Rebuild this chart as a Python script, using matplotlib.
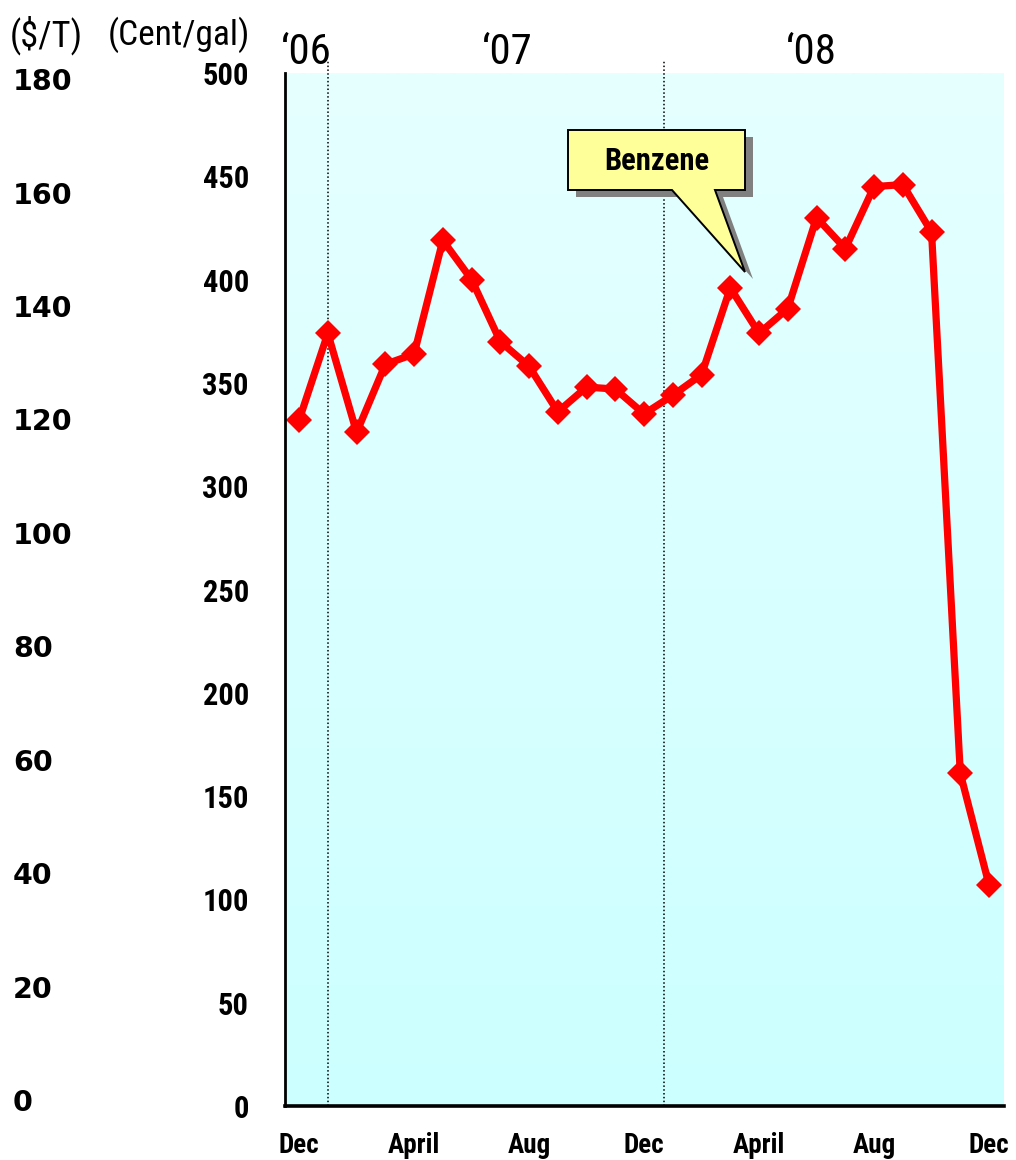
import numpy as np
import matplotlib
matplotlib.use("Agg")
import matplotlib.pyplot as plt
from matplotlib.patches import Polygon
from matplotlib import font_manager

# Monthly benzene price, Dec 2006 .. Dec 2008 (cents per gallon)
months = ["Dec", "Jan", "Feb", "Mar", "April", "May", "Jun", "Jul", "Aug", "Sep", "Oct", "Nov",
          "Dec", "Jan", "Feb", "Mar", "April", "May", "Jun", "Jul", "Aug", "Sep", "Oct", "Nov",
          "Dec"]
benzene_cents = [332, 374, 326, 359, 364, 419, 400, 370, 358, 336, 348, 347,
                 335, 344, 354, 396, 374, 386, 430, 415, 445, 446, 423, 161,
                 107]

cent_ticks = [0, 50, 100, 150, 200, 250, 300, 350, 400, 450, 500]
ton_ticks = [0, 20, 40, 60, 80, 100, 120, 140, 160, 180]
shown_months = [0, 4, 8, 12, 16, 20, 24]
year_labels = ["\u201806", "\u201807", "\u201808"]
year_label_x = [-0.65, 6.35, 16.95]
year_breaks = [1.0, 12.7]

installed = {f.name for f in font_manager.fontManager.ttflist}
narrow = next((n for n in ["Liberation Sans Narrow", "DejaVu Sans Condensed",
                           "Roboto Condensed", "Open Sans Condensed"]
               if n in installed), None)
NARROW_OK = narrow is not None
SANS = [narrow, "Liberation Sans", "DejaVu Sans"] if NARROW_OK else ["Liberation Sans", "DejaVu Sans"]
WIDE = ["DejaVu Sans"]
k = 1.0 if NARROW_OK else 0.85   # shrink when only a regular-width face exists

W, H = 1016, 1160
fig = plt.figure(figsize=(W / 100, H / 100), dpi=100)
fig.patch.set_facecolor("white")

rect = [285 / W, 1 - 1106 / H, (1004 - 285) / W, (1106 - 73) / H]
ax = fig.add_axes(rect)
x = np.arange(len(benzene_cents))

# light cyan vertical gradient behind the plot
grad = np.linspace(0, 1, 256).reshape(-1, 1)
top_c = np.array([230, 255, 255]) / 255
bot_c = np.array([204, 255, 255]) / 255
img = (top_c * (1 - grad) + bot_c * grad).reshape(256, 1, 3)
ax.imshow(img, extent=[-0.49, 24.52, 0, 500], aspect="auto", zorder=0,
          origin="upper", interpolation="bilinear")
ax.set_xlim(-0.49, 24.52)
ax.set_ylim(0, 500)

for xb in year_breaks:
    ax.axvline(xb, ymin=0, ymax=1.013, color="black", lw=1.1,
               linestyle=(0, (1, 1.5)), clip_on=False, zorder=1)

ax.plot(x, benzene_cents, color="#FF0000", lw=5.2, marker="D", ms=13.5,
        markeredgewidth=0, zorder=3)

for s in ["top", "right"]:
    ax.spines[s].set_visible(False)
ax.spines["left"].set_linewidth(2.0)
ax.spines["bottom"].set_linewidth(2.6)
ax.spines["left"].set_zorder(4)
ax.spines["bottom"].set_zorder(4)

ax.set_yticks(cent_ticks)
ax.set_yticklabels([str(v) for v in cent_ticks], family=SANS, fontweight="bold",
                   fontsize=22 * k)
ax.tick_params(axis="y", length=0, pad=26)

ax.set_xticks(shown_months)
ax.set_xticklabels([months[i] for i in shown_months], family=SANS,
                   fontweight="bold", fontsize=19.5 * k)
ax.tick_params(axis="x", length=0, pad=19)

# second scale in dollars per ton on the far left
ax2 = fig.add_axes(rect, frameon=False)
ax2.set_xlim(0, 1)
ax2.set_ylim(-1.06, 181.07)
ax2.set_xticks([])
ax2.set_yticks(ton_ticks)
ax2.set_yticklabels([str(v) for v in ton_ticks], family=WIDE, fontweight="bold",
                    fontsize=20.5)
ax2.tick_params(axis="y", length=0, pad=196)
for lab in ax2.get_yticklabels():
    lab.set_ha("left")
ax2.patch.set_visible(False)

# unit captions and year captions
fig.text(10 / W, 1 - 35 / H, "($/T)", family=SANS, fontsize=26 * k,
         ha="left", va="center")
fig.text(250 / W, 1 - 35 / H, "(Cent/gal)", family=SANS, fontsize=25.5 * k,
         ha="right", va="center")
for lab, xd in zip(year_labels, year_label_x):
    ax.text(xd, 1.0 + 20 / (1106 - 73), lab, transform=ax.get_xaxis_transform(),
            family=SANS, fontsize=31 * k, ha="left", va="center", clip_on=False)

# callout bubble
def px(pts):
    return [(u / W, 1 - v / H) for u, v in pts]

bubble = [(568, 130), (745, 130), (745, 190), (715, 190), (745, 272),
          (672, 190), (568, 190)]
shadow = [(u + 8, v + 7) for u, v in bubble]
fig.patches.append(Polygon(px(shadow), closed=True, transform=fig.transFigure,
                           facecolor="#808080", edgecolor="none", zorder=5))
fig.patches.append(Polygon(px(bubble), closed=True, transform=fig.transFigure,
                           facecolor="#FFFF99", edgecolor="black", lw=1.4,
                           zorder=6, joinstyle="miter"))
fig.text(657 / W, 1 - 161 / H, "Benzene", family=SANS, fontsize=22 * k,
         fontweight="bold", ha="center", va="center", zorder=7)

fig.savefig("out.png", dpi=100)
